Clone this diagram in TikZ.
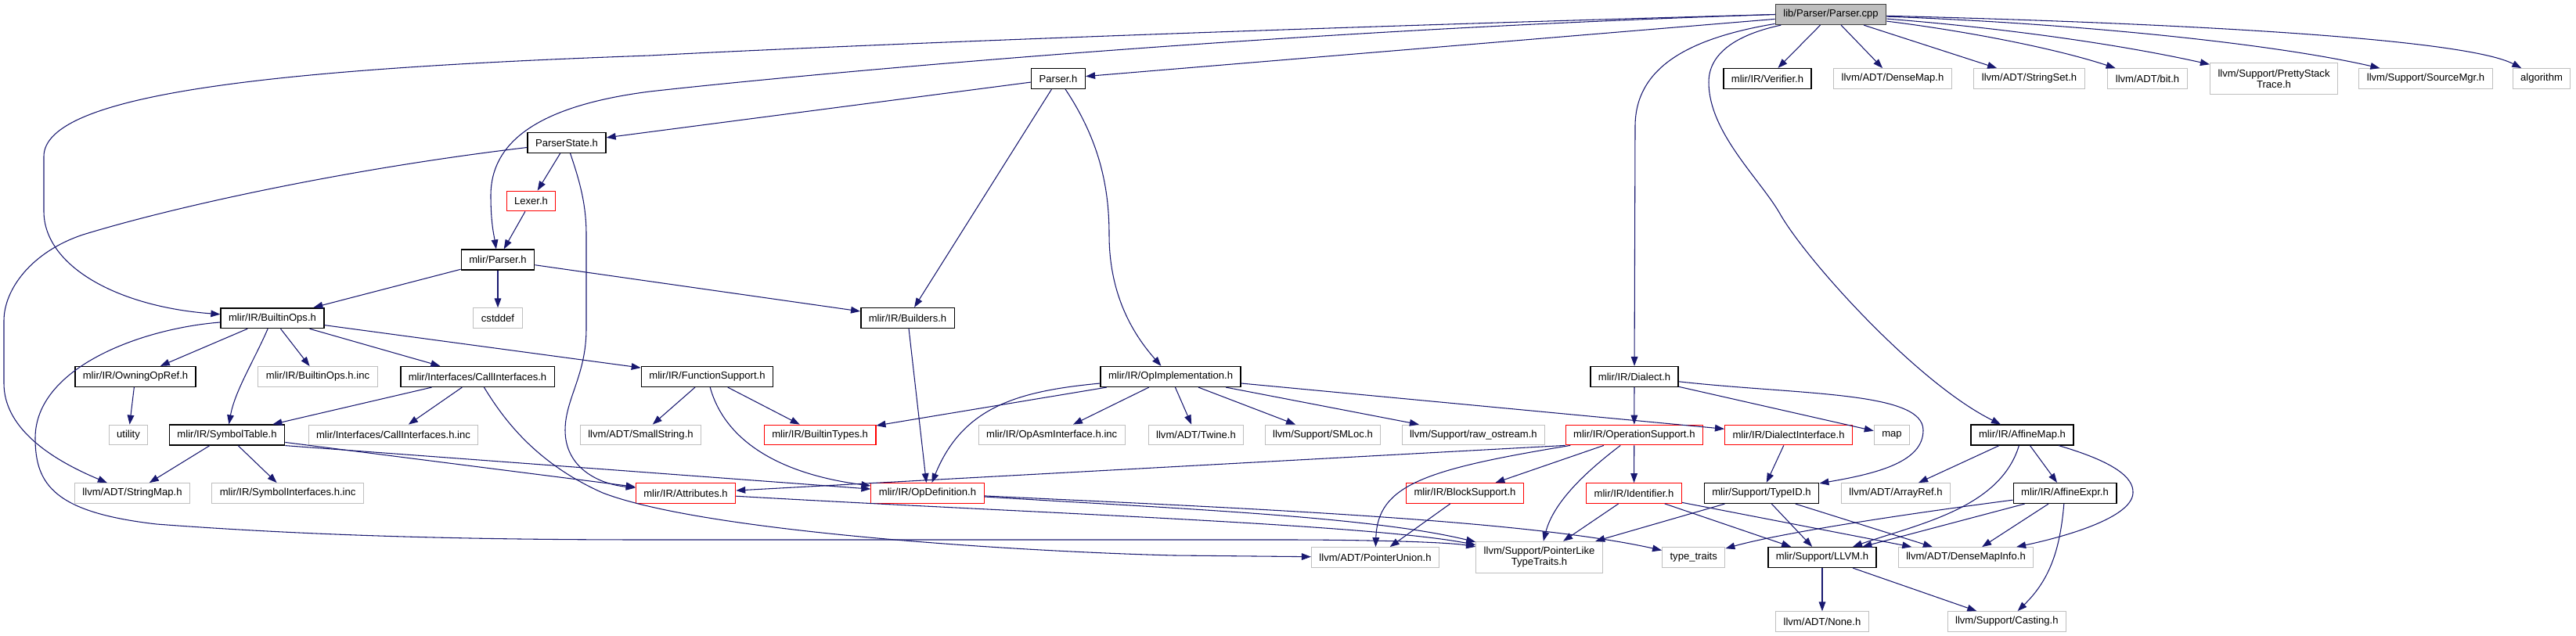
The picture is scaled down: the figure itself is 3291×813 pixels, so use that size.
\documentclass[tikz,border=0pt]{standalone}
\usepackage{fontspec}
\setmainfont{Liberation Sans}
\usetikzlibrary{arrows.meta}
\definecolor{edgeblue}{HTML}{191970}
\definecolor{extgray}{HTML}{BFBFBF}
\definecolor{trred}{HTML}{FF0000}
\definecolor{rootfill}{HTML}{BFBFBF}
\definecolor{rootborder}{HTML}{404040}
\tikzset{
  nd/.style={draw, rectangle, line width=0.8pt, minimum height=19.3pt, inner xsep=7.5pt, inner ysep=1pt, fill=white},
  docn/.style={nd, draw=black, line width=1.1pt},
  extn/.style={nd, draw=extgray},
  trn/.style={nd, draw=trred},
  rootn/.style={nd, draw=rootborder, fill=rootfill, line width=1.1pt},
  twol/.style={align=center, minimum height=30.3pt},
  edge/.style={draw=edgeblue, line width=0.8pt, -{Triangle[length=9pt,width=6.5pt]}},
}
\begin{document}
\begin{tikzpicture}[x=0.75pt,y=-0.75pt,font=\fontsize{9.8}{10.5}\selectfont]
\useasboundingbox (0,0) rectangle (3291,813);
% nodes
\node[rootn] (cpp) at (2339,18.5) {lib/Parser/Parser.cpp};
\node[docn] (parserh) at (1352,100.5) {Parser.h};
\node[docn] (verifier) at (2258,100.5) {mlir/IR/Verifier.h};
\node[extn] (densemap) at (2418,100.5) {llvm/ADT/DenseMap.h};
\node[extn] (stringset) at (2592.5,100.5) {llvm/ADT/StringSet.h};
\node[extn] (bit) at (2743.5,100.5) {llvm/ADT/bit.h};
\node[extn,twol] (pretty) at (2905,100.5) {llvm/Support/PrettyStack\\Trace.h};
\node[extn] (sourcemgr) at (3099,100.5) {llvm/Support/SourceMgr.h};
\node[extn] (algorithm) at (3247,100.5) {algorithm};
\node[docn] (parserstate) at (724,182.5) {ParserState.h};
\node[trn] (lexer) at (678.5,257) {Lexer.h};
\node[docn] (mparser) at (636,332) {mlir/Parser.h};
\node[extn] (cstddef) at (636,406.7) {cstddef};
\node[docn] (builtinops) at (348,406.7) {mlir/IR/BuiltinOps.h};
\node[docn] (builders) at (1159.5,406.5) {mlir/IR/Builders.h};
\node[docn] (owning) at (173,481.5) {mlir/IR/OwningOpRef.h};
\node[extn] (builtinopsinc) at (406,481.5) {mlir/IR/BuiltinOps.h.inc};
\node[docn] (callif) at (610,481.5) {mlir/Interfaces/CallInterfaces.h};
\node[docn] (funcsupport) at (903.5,481.5) {mlir/IR/FunctionSupport.h};
\node[docn] (opimpl) at (1495.5,481.5) {mlir/IR/OpImplementation.h};
\node[docn] (dialect) at (2088,481.5) {mlir/IR/Dialect.h};
\node[extn] (utility) at (164,556) {utility};
\node[docn] (symtable) at (290,556) {mlir/IR/SymbolTable.h};
\node[extn] (callifinc) at (502.5,556) {mlir/Interfaces/CallInterfaces.h.inc};
\node[extn] (smallstring) at (818.5,556) {llvm/ADT/SmallString.h};
\node[trn] (builtintypes) at (1047.6,556) {mlir/IR/BuiltinTypes.h};
\node[extn] (opasminc) at (1343.7,556) {mlir/IR/OpAsmInterface.h.inc};
\node[extn] (twine) at (1528,556) {llvm/ADT/Twine.h};
\node[extn] (smloc) at (1690,556) {llvm/Support/SMLoc.h};
\node[extn] (rawostream) at (1882.4,556) {llvm/Support/raw\_ostream.h};
\node[trn] (opsupport) at (2087.8,556) {mlir/IR/OperationSupport.h};
\node[trn] (dialectif) at (2285,556) {mlir/IR/DialectInterface.h};
\node[extn] (map) at (2417,556) {map};
\node[docn] (affinemap) at (2583.5,556) {mlir/IR/AffineMap.h};
\node[extn] (stringmap) at (169,630.5) {llvm/ADT/StringMap.h};
\node[extn] (symifinc) at (367.6,630.5) {mlir/IR/SymbolInterfaces.h.inc};
\node[trn] (attributes) at (876,630.5) {mlir/IR/Attributes.h};
\node[trn] (opdef) at (1185,630.5) {mlir/IR/OpDefinition.h};
\node[trn] (blocksupport) at (1871.5,630.5) {mlir/IR/BlockSupport.h};
\node[trn] (identifier) at (2087.5,630.5) {mlir/IR/Identifier.h};
\node[docn] (typeid) at (2250.5,630.5) {mlir/Support/TypeID.h};
\node[extn] (arrayref) at (2422,630.5) {llvm/ADT/ArrayRef.h};
\node[docn] (affineexpr) at (2638,630.5) {mlir/IR/AffineExpr.h};
\node[extn] (pointerunion) at (1757,712.5) {llvm/ADT/PointerUnion.h};
\node[extn,twol] (pointerlike) at (1966.5,712.5) {llvm/Support/PointerLike\\TypeTraits.h};
\node[extn] (typetraits) at (2163.7,712.5) {type\_traits};
\node[docn] (llvmh) at (2328,712.5) {mlir/Support/LLVM.h};
\node[extn] (densemapinfo) at (2511.5,712.5) {llvm/ADT/DenseMapInfo.h};
\node[extn] (noneh) at (2328,794.7) {llvm/ADT/None.h};
\node[extn] (casting) at (2563.8,794.5) {llvm/Support/Casting.h};
% edges from Parser.cpp
\draw[edge] (cpp) -- (parserh);
\draw[edge] (cpp.west) .. controls (1500,40) and (1000,62) .. (830,71) .. controls (350,88) and (56,120) .. (56,200) -- (56,270) .. controls (56,340) and (150,392) .. (builtinops);
\draw[edge] (cpp.west) .. controls (1600,40) and (1000,98) .. (830,117) .. controls (690,135) and (627,180) .. (627,250) .. controls (627,285) and (631,300) .. (mparser);
\draw[edge] (cpp) -- (verifier);
\draw[edge] (cpp) -- (densemap);
\draw[edge] (cpp) -- (stringset);
\draw[edge] (cpp) .. controls (2500,38) and (2620,60) .. (bit);
\draw[edge] (cpp) .. controls (2550,35) and (2700,55) .. (pretty);
\draw[edge] (cpp) .. controls (2650,30) and (2900,55) .. (sourcemgr);
\draw[edge] (cpp) .. controls (2800,30) and (3150,50) .. (algorithm);
\draw[edge] (cpp) .. controls (2150,50) and (2090,90) .. (2089,160) -- (dialect);
\draw[edge] (cpp) .. controls (2215,45) and (2183,70) .. (2183,105) .. controls (2183,170) and (2250,230) .. (2275,275) .. controls (2310,335) and (2450,490) .. (affinemap);
% Parser.h
\draw[edge] (parserh) -- (parserstate);
\draw[edge] (parserh) -- (builders);
\draw[edge] (parserh) .. controls (1405,180) and (1417,240) .. (1417,300) .. controls (1417,380) and (1450,430) .. (opimpl);
% ParserState.h
\draw[edge] (parserstate) -- (lexer);
\draw[edge] (parserstate) .. controls (450,215) and (230,262) .. (106,300) .. controls (40,322) and (5,370) .. (5,410) -- (5,490) .. controls (5,545) and (60,585) .. (stringmap);
\draw[edge] (parserstate) .. controls (740,230) and (749,260) .. (749,300) -- (749,420) .. controls (749,480) and (722,510) .. (722,550) .. controls (722,595) and (760,618) .. (attributes);
\draw[edge] (lexer) -- (mparser);
% mlir/Parser.h
\draw[edge] (mparser) -- (builtinops);
\draw[edge] (mparser) -- (cstddef);
\draw[edge] (mparser) -- (builders);
% BuiltinOps.h
\draw[edge] (builtinops) -- (owning);
\draw[edge] (builtinops) -- (builtinopsinc);
\draw[edge] (builtinops) -- (callif);
\draw[edge] (builtinops) -- (funcsupport);
\draw[edge] (builtinops) .. controls (325,460) and (300,500) .. (symtable);
\draw[edge] (builtinops) .. controls (180,420) and (45,470) .. (45,560) .. controls (45,620) and (70,655) .. (200,670) .. controls (400,685) and (600,690) .. (830,690) -- (1640,690) .. controls (1750,690) and (1850,693) .. (pointerlike);
% CallInterfaces.h
\draw[edge] (callif) -- (symtable);
\draw[edge] (callif) -- (callifinc);
\draw[edge] (callif) .. controls (640,530) and (680,590) .. (770,630) .. controls (900,680) and (1300,705) .. (1500,710) -- (pointerunion);
\draw[edge] (owning) -- (utility);
% FunctionSupport.h
\draw[edge] (funcsupport) -- (smallstring);
\draw[edge] (funcsupport) -- (builtintypes);
\draw[edge] (funcsupport) .. controls (925,560) and (990,605) .. (opdef);
\draw[edge] (builders) -- (opdef);
% OpImplementation.h
\draw[edge] (opimpl) -- (builtintypes);
\draw[edge] (opimpl) .. controls (1300,500) and (1230,520) .. (opdef);
\draw[edge] (opimpl) -- (opasminc);
\draw[edge] (opimpl) -- (twine);
\draw[edge] (opimpl) -- (smloc);
\draw[edge] (opimpl) -- (rawostream);
\draw[edge] (opimpl) -- (dialectif);
% Dialect.h
\draw[edge] (dialect) -- (opsupport);
\draw[edge] (dialect) -- (map);
\draw[edge] (dialect) .. controls (2300,505) and (2457,500) .. (2457,550) .. controls (2457,590) and (2400,605) .. (typeid);
\draw[edge] (dialectif) -- (typeid);
% OperationSupport.h
\draw[edge] (opsupport.south west) -- (attributes);
\draw[edge] (opsupport) -- (blocksupport);
\draw[edge] (opsupport) .. controls (1820,600) and (1760,620) .. (pointerunion);
\draw[edge] (opsupport) .. controls (2030,600) and (1985,640) .. (pointerlike);
\draw[edge] (opsupport) -- (identifier);
\draw[edge] (blocksupport) -- (pointerunion);
% Identifier.h, TypeID.h, LLVM.h
\draw[edge] (identifier) -- (pointerlike);
\draw[edge] (identifier) -- (llvmh);
\draw[edge] (identifier) -- (densemapinfo);
\draw[edge] (typeid) -- (pointerlike);
\draw[edge] (typeid) -- (llvmh);
\draw[edge] (typeid) -- (densemapinfo);
\draw[edge] (llvmh) -- (noneh);
\draw[edge] (llvmh) -- (casting);
% AffineMap.h, AffineExpr.h
\draw[edge] (affinemap) -- (arrayref);
\draw[edge] (affinemap) .. controls (2555,650) and (2450,670) .. (llvmh);
\draw[edge] (affinemap) -- (affineexpr);
\draw[edge] (affinemap) .. controls (2700,590) and (2726,610) .. (2725,630) .. controls (2724,665) and (2620,690) .. (densemapinfo);
\draw[edge] (affineexpr) .. controls (2450,655) and (2280,680) .. (typetraits);
\draw[edge] (affineexpr) -- (llvmh);
\draw[edge] (affineexpr) -- (densemapinfo);
\draw[edge] (affineexpr) .. controls (2632,700) and (2620,740) .. (casting);
% SymbolTable.h, Attributes.h, OpDefinition.h
\draw[edge] (symtable) -- (stringmap);
\draw[edge] (symtable) -- (symifinc);
\draw[edge] (symtable) -- (attributes);
\draw[edge] (symtable.south east) -- (opdef);
\draw[edge] (attributes) .. controls (1300,655) and (1750,670) .. (pointerlike);
\draw[edge] (opdef) .. controls (1600,650) and (1950,665) .. (typetraits);
\draw[edge] (opdef) .. controls (1500,650) and (1750,660) .. (pointerlike);
\end{tikzpicture}
\end{document}
